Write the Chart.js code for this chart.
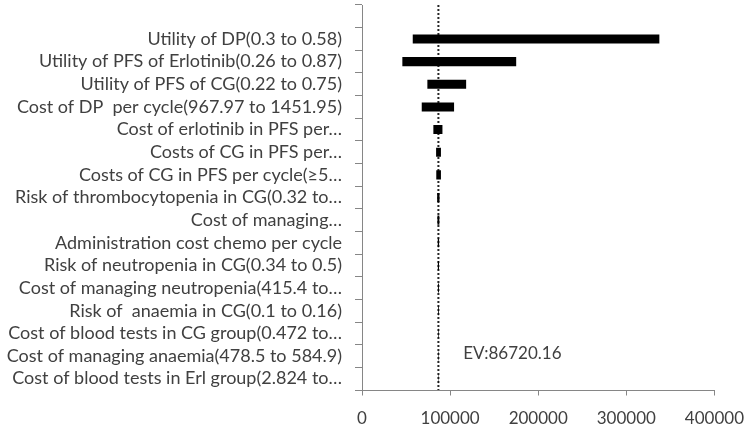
<!DOCTYPE html>
<html>
<head>
<meta charset="utf-8">
<script src="https://cdn.jsdelivr.net/npm/chart.js@4"></script>
<style>
  html, body { margin: 0; padding: 0; background: #fff; overflow: hidden; }
  #wrap { width: 748px; height: 427px; position: relative; overflow: hidden; }
  canvas { display: block; }
</style>
</head>
<body>
<div id="wrap"><canvas id="c" width="757" height="427" style="width:757px;height:427px"></canvas></div>
<script>
const categories = [
  '',
  'Utility of DP(0.3 to 0.58)',
  'Utility of PFS of Erlotinib(0.26 to 0.87)',
  'Utility of PFS of CG(0.22 to 0.75)',
  'Cost of DP  per cycle(967.97 to 1451.95)',
  'Cost of erlotinib in PFS per…',
  'Costs of CG in PFS per…',
  'Costs of CG in PFS per cycle(≥5…',
  'Risk of thrombocytopenia in CG(0.32 to…',
  'Cost of managing…',
  'Administration cost chemo per cycle',
  'Risk of neutropenia in CG(0.34 to 0.5)',
  'Cost of managing neutropenia(415.4 to…',
  'Risk of  anaemia in CG(0.1 to 0.16)',
  'Cost of blood tests in CG group(0.472 to…',
  'Cost of managing anaemia(478.5 to 584.9)',
  'Cost of blood tests in Erl group(2.824 to…'
];
const lowValues  = [null, 57600, 45800, 74200, 67800, 81000, 84100, 84300, 85300, 85600, 86000, 86100, 86200, 86300, 86400, 86450, 86500];
const highValues = [null, 337500, 175000, 118200, 104500, 91300, 89600, 89600, 88000, 87800, 87500, 87400, 87300, 87200, 87100, 87000, 86950];
const xTicks = [0, 100000, 200000, 300000, 400000];
const evValue = 86720.16;
const evLabel = 'EV:86720.16';
const evLabelValue = 114800;   // x position of the EV text, in data units
const evLabelRow = 15;         // category row next to which the EV text sits

const FONT = 'Lato, "Open Sans", sans-serif';
const TEXT = '#404040';
const AXIS = '#868686';

const evPlugin = {
  id: 'evLine',
  beforeDatasetsDraw(chart) {
    const ctx = chart.ctx, x = chart.scales.x;
    const px = x.getPixelForValue(evValue);
    ctx.save();
    ctx.strokeStyle = '#262626';
    ctx.lineWidth = 2;
    ctx.setLineDash([2, 2]);
    ctx.beginPath();
    ctx.moveTo(px, chart.chartArea.top);
    ctx.lineTo(px, chart.chartArea.bottom);
    ctx.stroke();
    ctx.restore();
  },
  afterDatasetsDraw(chart) {
    const ctx = chart.ctx, x = chart.scales.x, y = chart.scales.y;
    ctx.save();
    ctx.fillStyle = TEXT;
    ctx.font = '17px ' + FONT;
    ctx.textAlign = 'left';
    ctx.textBaseline = 'middle';
    ctx.fillText(evLabel, x.getPixelForValue(evLabelValue), y.getPixelForValue(evLabelRow) - 3);
    ctx.restore();
  },
  afterDraw(chart) {
    // x axis line and its tick marks, placed from the x scale
    const ctx = chart.ctx, x = chart.scales.x, a = chart.chartArea;
    const yb = Math.round(x.top) + 0.5;
    ctx.save();
    ctx.strokeStyle = AXIS;
    ctx.lineWidth = 1;
    ctx.beginPath();
    ctx.moveTo(a.left, yb);
    ctx.lineTo(x.getPixelForValue(xTicks[xTicks.length - 1]) + 0.5, yb);
    xTicks.forEach(v => {
      const px = Math.round(x.getPixelForValue(v)) + 0.5;
      ctx.moveTo(px, yb);
      ctx.lineTo(px, yb + 5);
    });
    ctx.stroke();
    ctx.restore();
  }
};

new Chart(document.getElementById('c'), {
  type: 'bar',
  data: {
    labels: categories,
    datasets: [{
      data: lowValues.map((l, i) => l == null ? null : [l, highValues[i]]),
      backgroundColor: '#000000',
      borderWidth: 0,
      barPercentage: 0.4,
      categoryPercentage: 1.0
    }]
  },
  options: {
    indexAxis: 'y',
    responsive: false,
    animation: false,
    devicePixelRatio: 1,
    layout: { padding: { left: 0, right: 34, top: 5, bottom: 0 } },
    plugins: { legend: { display: false }, tooltip: { enabled: false } },
    scales: {
      x: {
        type: 'linear',
        min: 0, max: 400000,
        afterBuildTicks(scale) { scale.ticks = xTicks.map(v => ({ value: v })); },
        afterFit(scale) { scale.height = 37; },
        ticks: {
          callback: v => String(v),
          color: TEXT,
          font: { family: FONT, size: 17 },
          padding: 13,
          maxRotation: 0
        },
        grid: { drawOnChartArea: false, drawTicks: true, tickLength: 5, color: AXIS, lineWidth: 1 },
        border: { display: true, color: AXIS, width: 1 }
      },
      y: {
        type: 'category',
        offset: true,
        afterFit(scale) { scale.width = 362; scale.paddingTop = 0; scale.paddingBottom = 0; },
        ticks: {
          color: TEXT,
          font: { family: FONT, size: 18 },
          padding: 13,
          autoSkip: false
        },
        grid: { offset: true, drawOnChartArea: false, drawTicks: true, tickLength: 7, color: AXIS, lineWidth: 1 },
        border: { display: true, color: AXIS, width: 1 }
      }
    }
  },
  plugins: [evPlugin]
});
</script>
</body>
</html>
